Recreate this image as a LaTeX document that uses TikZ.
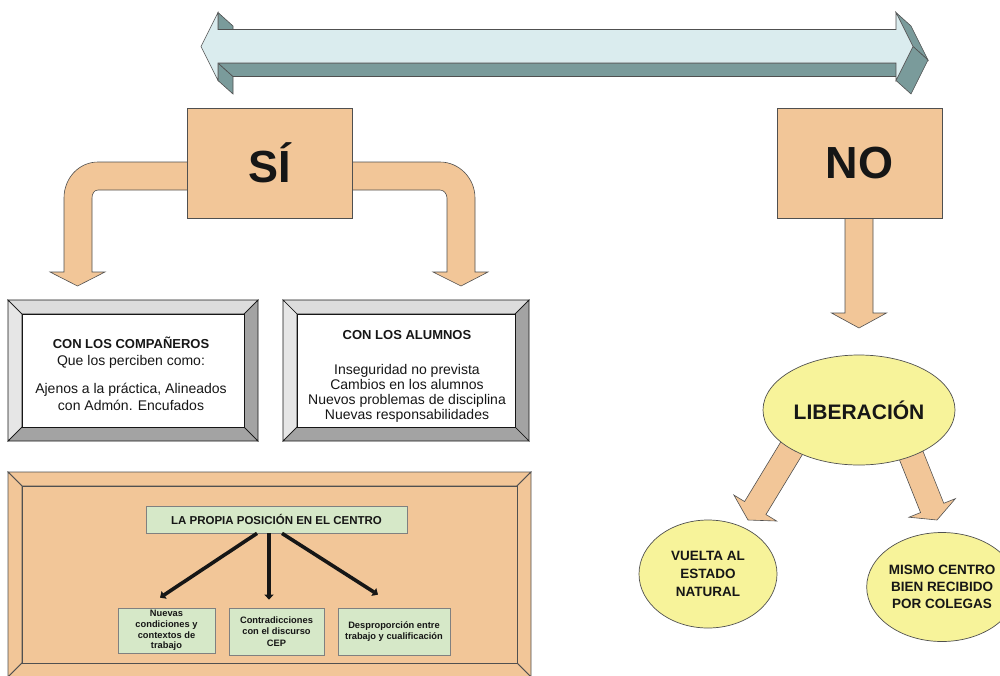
\documentclass[tikz,border=0pt]{standalone}
\usepackage{fontspec}
\setmainfont{Liberation Sans}
\usetikzlibrary{calc,arrows.meta,shapes.geometric}

\definecolor{peach}{HTML}{F2C698}
\definecolor{paleyellow}{HTML}{F7F39A}
\definecolor{palegreen}{HTML}{D6E8C8}
\definecolor{barface}{HTML}{DAECEE}
\definecolor{barside}{HTML}{7A9B9B}
\definecolor{bevlight}{HTML}{DCDCDC}
\definecolor{bevdark}{HTML}{A3A3A3}
\definecolor{edgegray}{HTML}{505050}
\definecolor{inkblack}{HTML}{161616}

% block arrow from #1 to tip #2: half shaft width #3, half head width #4, head length #5
\newcommand\fatarrow[5]{%
  \path ($(#2)!#5!(#1)$) coordinate (fab);
  \filldraw[blockarrow] ($(#1)!#3!90:(#2)$) -- ($(fab)!#3!90:(#2)$)
    -- ($(fab)!#4!90:(#2)$) -- (#2) -- ($(fab)!#4!-90:(#2)$)
    -- ($(fab)!#3!-90:(#2)$) -- ($(#1)!#3!-90:(#2)$) -- cycle;}

% bevelled frame: corners (#1,#2) and (#3,#4), bevel width #5
\newcommand\bevelframe[5]{%
  \filldraw[bvtop] (#1,#2) -- (#3,#2) -- ({#3-#5},{#2+#5}) -- ({#1+#5},{#2+#5}) -- cycle;
  \filldraw[bvleft] (#1,#2) -- ({#1+#5},{#2+#5}) -- ({#1+#5},{#4-#5}) -- (#1,#4) -- cycle;
  \filldraw[bvright] (#3,#2) -- (#3,#4) -- ({#3-#5},{#4-#5}) -- ({#3-#5},{#2+#5}) -- cycle;
  \filldraw[bvbottom] (#1,#4) -- (#3,#4) -- ({#3-#5},{#4-#5}) -- ({#1+#5},{#4-#5}) -- cycle;
  \filldraw[bvinner] ({#1+#5},{#2+#5}) rectangle ({#3-#5},{#4-#5});}

\tikzset{
  blockarrow/.style={fill=peach, draw=edgegray, line width=0.6pt, line join=miter},
  barfront/.style={fill=barface, draw=edgegray, line width=0.6pt},
  barshade/.style={fill=barside, draw=edgegray, line width=0.6pt},
  bigbox/.style={rectangle, draw=edgegray, fill=peach, line width=0.8pt,
    minimum width=165pt, minimum height=110pt, inner sep=0pt,
    font=\fontsize{45}{50}\selectfont\bfseries, text=inkblack},
  greybevel/.style={
    bvtop/.style={fill=bevlight, draw=inkblack, line width=0.7pt},
    bvleft/.style={fill=bevlight!70!white, draw=inkblack, line width=0.7pt},
    bvright/.style={fill=bevdark, draw=inkblack, line width=0.7pt},
    bvbottom/.style={fill=bevdark, draw=inkblack, line width=0.7pt},
    bvinner/.style={fill=white, draw=inkblack, line width=0.7pt}},
  peachbevel/.style={
    bvtop/.style={fill=peach, draw=edgegray, line width=0.8pt},
    bvleft/.style={fill=peach, draw=edgegray, line width=0.8pt},
    bvright/.style={fill=peach, draw=edgegray, line width=0.8pt},
    bvbottom/.style={fill=peach, draw=edgegray, line width=0.8pt},
    bvinner/.style={fill=peach, draw=edgegray, line width=0.8pt}},
  boxtext/.style={align=center, inner sep=0pt, text=inkblack,
    font=\fontsize{14}{17.5}\selectfont},
  greenbox/.style={rectangle, draw=gray, fill=palegreen, line width=0.7pt,
    inner sep=0pt, align=center, text=inkblack,
    font=\fontsize{9.3}{11.5}\selectfont\bfseries},
  blob/.style={ellipse, draw=edgegray, fill=paleyellow, line width=0.7pt,
    inner sep=0pt, align=center, text=inkblack},
  branch/.style={draw=inkblack, line width=3.6pt,
    -{Triangle[width=9pt,length=5pt]}}
}

\begin{document}
\begin{tikzpicture}[x=1pt, y=-1pt]
\useasboundingbox (0,0) rectangle (1000,675);

% ---- double-headed 3D bar at the top ----
\filldraw[barshade] (218,12.5) -- (233,26) -- (233,43) -- (218,29.5) -- cycle;
\filldraw[barshade] (218,63) -- (233,76.5) -- (233,94) -- (218,80.5) -- cycle;
\filldraw[barshade] (218,63) -- (896,63) -- (911,76.5) -- (233,76.5) -- cycle;
\filldraw[barshade] (896,12.5) -- (911,26) -- (928,60) -- (913,46.5) -- cycle;
\filldraw[barshade] (913,46.5) -- (928,60) -- (911,94) -- (896,80.5) -- cycle;
\filldraw[barfront] (218,12.5) -- (201,46.5) -- (218,80.5) -- (218,63) -- (896,63)
  -- (896,80.5) -- (913,46.5) -- (896,12.5) -- (896,29.5) -- (218,29.5) -- cycle;

% ---- SI branch: two bent arrows ----
\filldraw[blockarrow] (220,162) -- (98,162) .. controls (79,162) and (64,178) .. (64,198)
  -- (64,272) -- (50,272) -- (77.5,286) -- (105,272) -- (92,272) -- (92,198)
  .. controls (92,194) and (94,190) .. (98,190) -- (220,190) -- cycle;
\filldraw[blockarrow] (320,162) -- (440,162) .. controls (459,162) and (475,178) .. (475,198)
  -- (475,272) -- (488,272) -- (461,286) -- (433,272) -- (447,272) -- (447,198)
  .. controls (447,194) and (444,190) .. (440,190) -- (320,190) -- cycle;
\node[bigbox] (si) at (269.5,163) {SÍ};

% ---- NO branch ----
\coordinate (noarrowstart) at (859,200);
\coordinate (noarrowtip) at (859,328);
\fatarrow{noarrowstart}{noarrowtip}{14pt}{27.5pt}{15pt}
\node[bigbox] (no) at (859.5,163) {NO};

% ---- grey bevelled boxes ----
\begin{scope}[greybevel]
  \bevelframe{8}{300}{258}{441}{14}
  \bevelframe{283}{300}{529}{441}{14}
\end{scope}
\node[boxtext] (companeros) at (131,374)
  {{\fontsize{13}{17.5}\selectfont\bfseries CON LOS COMPAÑEROS}\\
   Que los perciben como:\\[10pt]
   Ajenos a la práctica, Alineados\\
   con Admón. Encufados};
\node[boxtext, font=\fontsize{14}{15}\selectfont] (alumnos) at (407,376)
  {{\fontsize{13}{15}\selectfont\bfseries CON LOS ALUMNOS}\\[20pt]
   Inseguridad no prevista\\
   Cambios en los alumnos\\
   Nuevos problemas de disciplina\\
   Nuevas responsabilidades};

% ---- peach bevelled panel ----
\begin{scope}[peachbevel]
  \bevelframe{8}{472}{531}{677}{14}
\end{scope}
\node[greenbox, minimum width=261pt, minimum height=27pt,
  font=\fontsize{11.5}{13}\selectfont\bfseries] (posicion) at (276.5,519.5)
  {LA PROPIA POSICIÓN EN EL CENTRO};
\node[greenbox, minimum width=97pt, minimum height=45pt,
  font=\fontsize{9.3}{10.6}\selectfont\bfseries] (nb1) at (166.5,630.5)
  {Nuevas\\condiciones y\\contextos de\\trabajo};
\node[greenbox, minimum width=95pt, minimum height=47pt] (nb2) at (276.5,631.5)
  {Contradicciones\\con el discurso\\CEP};
\node[greenbox, minimum width=112pt, minimum height=47pt] (nb3) at (394,631.5)
  {Desproporción entre\\trabajo y cualificación};
\draw[branch] ([xshift=-19.5pt]posicion.south) -- ([xshift=-6.5pt,yshift=10pt]nb1.north);
\draw[branch] ([xshift=-7.5pt]posicion.south) -- ([xshift=-7.5pt,yshift=8pt]nb2.north);
\draw[branch] ([xshift=5.5pt]posicion.south) -- ([xshift=-16pt,yshift=13pt]nb3.north);

% ---- LIBERACION and its outcomes ----
\coordinate (libleftstart) at (799,436);
\coordinate (libleftend) at (748,520);
\coordinate (librightstart) at (905,440);
\coordinate (librightend) at (937,520);
\fatarrow{libleftstart}{libleftend}{12.5pt}{25pt}{14pt}
\fatarrow{librightstart}{librightend}{12.5pt}{25pt}{13pt}
\node[blob, minimum width=192pt, minimum height=110pt,
  font=\fontsize{21}{24}\selectfont\bfseries] (lib) at (859,410) {LIBERACIÓN};
\node[blob, minimum width=138pt, minimum height=108pt,
  font=\fontsize{13.5}{18}\selectfont\bfseries] (vuelta) at (708,574)
  {VUELTA AL\\ESTADO\\NATURAL};
\node[blob, minimum width=138pt, minimum height=109pt,
  font=\fontsize{13.5}{17}\selectfont\bfseries] (mismo) at (942,587)
  {MISMO CENTRO\\BIEN RECIBIDO\\POR COLEGAS};
\end{tikzpicture}
\end{document}
